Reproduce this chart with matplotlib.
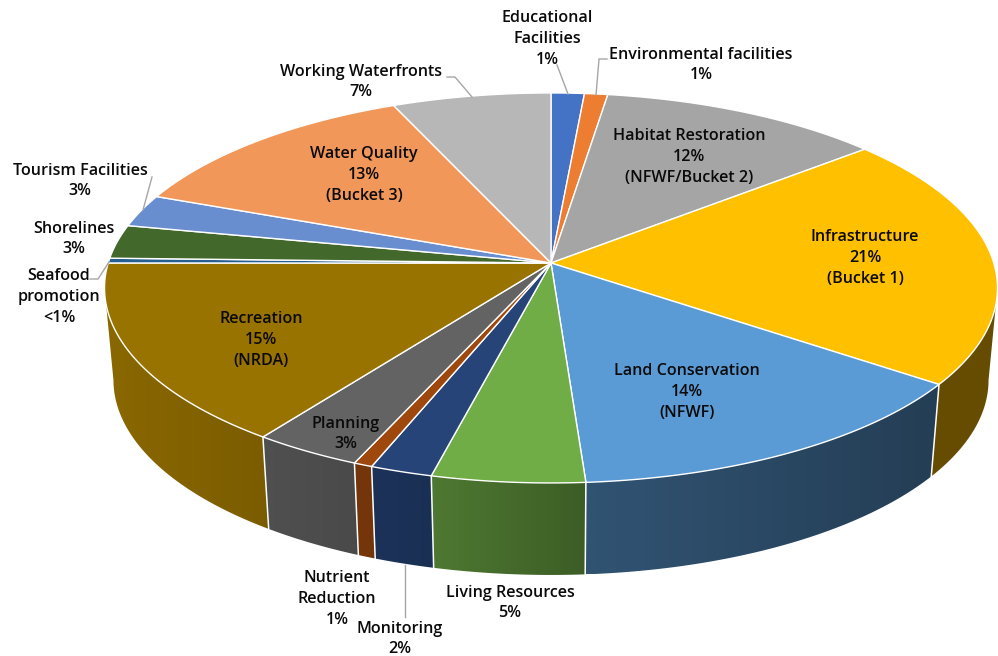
import numpy as np
import matplotlib
matplotlib.use("Agg")
import matplotlib.pyplot as plt
from matplotlib.patches import Polygon

# ---- data (percent of total, clockwise from 12 o'clock) ----
categories = ["Educational Facilities", "Environmental facilities", "Habitat Restoration",
              "Infrastructure", "Land Conservation", "Living Resources", "Monitoring",
              "Nutrient Reduction", "Planning", "Recreation", "Seafood promotion",
              "Shorelines", "Tourism Facilities", "Water Quality", "Working Waterfronts"]
values = [1.36, 0.95, 11.6, 21.05, 13.95, 4.9, 2.0, 0.6, 3.5, 15.1, 0.4, 2.8, 2.7, 12.6, 6.5]
colors = ["#4472C4", "#ED7D31", "#A5A5A5", "#FFC000", "#5B9BD5", "#70AD47", "#264478", "#9E480E",
          "#636363", "#997300", "#255E91", "#43682B", "#698ED0", "#F1975A", "#B7B7B7"]
labels = ["Educational\nFacilities\n1%", "Environmental facilities\n1%",
          "Habitat Restoration\n12%\n(NFWF/Bucket 2)", "Infrastructure\n21%\n(Bucket 1)",
          "Land Conservation\n14%\n(NFWF)", "Living Resources\n5%", "Monitoring\n2%",
          "Nutrient\nReduction\n1%", "Planning\n3%", "Recreation\n15%\n(NRDA)",
          "Seafood\npromotion\n<1%", "Shorelines\n3%", "Tourism Facilities\n3%",
          "Water Quality\n13%\n(Bucket 3)", "Working Waterfronts\n7%"]

# ---- layout (pixels) ----
label_pos = [(547, 39), (701, 65), (689, 157), (865, 258), (687, 392), (510, 603), (400, 639),
             (337, 599), (346, 434), (261, 340), (59, 297), (74, 239), (80, 181), (364, 175), (361, 82)]
leaders = [[(557, 65), (568, 94)],
           [(607, 59), (599, 59), (596, 95)],
           [(447, 77), (455, 77), (472, 97)],
           [(152, 177), (143, 210)],
           [(90, 279), (98, 279), (109, 262)],
           [(405, 565), (405, 617)]]

CX, CY = 551.0, 263.0      # apex of the pie on screen
A, B, K = 442.8, 191.8, 0.128   # perspective projection of the disc
DROP, SHRINK = 92.0, 0.98  # bottom disc offset and horizontal shrink
WALL_LO, WALL_HI = 97.4, 262.6  # silhouette angles of the side wall
shade_x = [105, 270, 430, 584, 585, 932, 990]
shade_f = [0.90, 0.80, 0.70, 0.54, 0.54, 0.40, 0.40]


def project(theta_deg, bottom=False):
    t = np.radians(theta_deg)
    u, v = np.sin(t), np.cos(t)
    w = 1 + K * v
    if bottom:
        return CX + SHRINK * A * u / w, CY + DROP - B * v / w
    return CX + A * u / w, CY - B * v / w


fig = plt.figure(figsize=(9.98, 6.56), dpi=100)
ax = fig.add_axes([0, 0, 1, 1])
ax.axis("off")

edges = np.concatenate([[0], np.cumsum(values)]) / np.sum(values) * 360.0
seam_color = "white"

# side walls with a horizontal gradient
for i, col in enumerate(colors):
    lo, hi = max(edges[i], WALL_LO), min(edges[i + 1], WALL_HI)
    if hi <= lo:
        continue
    th = np.linspace(lo, hi, 120)
    xt, yt = project(th)
    xb, yb = project(th, bottom=True)
    poly = np.column_stack([np.r_[xt, xb[::-1]], np.r_[yt, yb[::-1]]])
    x0, x1 = poly[:, 0].min(), poly[:, 0].max()
    y0, y1 = poly[:, 1].min(), poly[:, 1].max()
    xs = np.linspace(x0, x1, 256)
    f = np.interp(xs, shade_x, shade_f)
    rgb = np.outer(f, matplotlib.colors.to_rgb(col))[None, :, :]
    im = ax.imshow(rgb, extent=(x0, x1, y1, y0), aspect="auto", zorder=1, interpolation="bilinear")
    im.set_clip_path(Polygon(poly, closed=True, transform=ax.transData))

# seams between wall segments
for e in edges[1:-1]:
    if WALL_LO < e < WALL_HI:
        xt, yt = project(e)
        xb, yb = project(e, bottom=True)
        ax.plot([xt, xb], [yt, yb], color=seam_color, lw=1.1, zorder=2)

# top face
for i, col in enumerate(colors):
    th = np.linspace(edges[i], edges[i + 1], max(3, int((edges[i + 1] - edges[i]) * 3)))
    xt, yt = project(th)
    ax.fill(np.r_[CX, xt], np.r_[CY, yt], facecolor=col, edgecolor="white", lw=1.0,
            joinstyle="round", zorder=3)

# leader lines
for pts in leaders:
    ax.plot([p[0] for p in pts], [p[1] for p in pts], color="#a6a6a6", lw=1.0, zorder=4)

# labels
for txt, (x, y) in zip(labels, label_pos):
    ax.text(x, y, txt, ha="center", va="center", ma="center", fontsize=11.6, color="#0a0a0a",
            family="Open Sans", weight="semibold", linespacing=1.38, zorder=5)

ax.set_xlim(0, 998)
ax.set_ylim(656, 0)
fig.savefig("out.png", dpi=100, facecolor="white")
